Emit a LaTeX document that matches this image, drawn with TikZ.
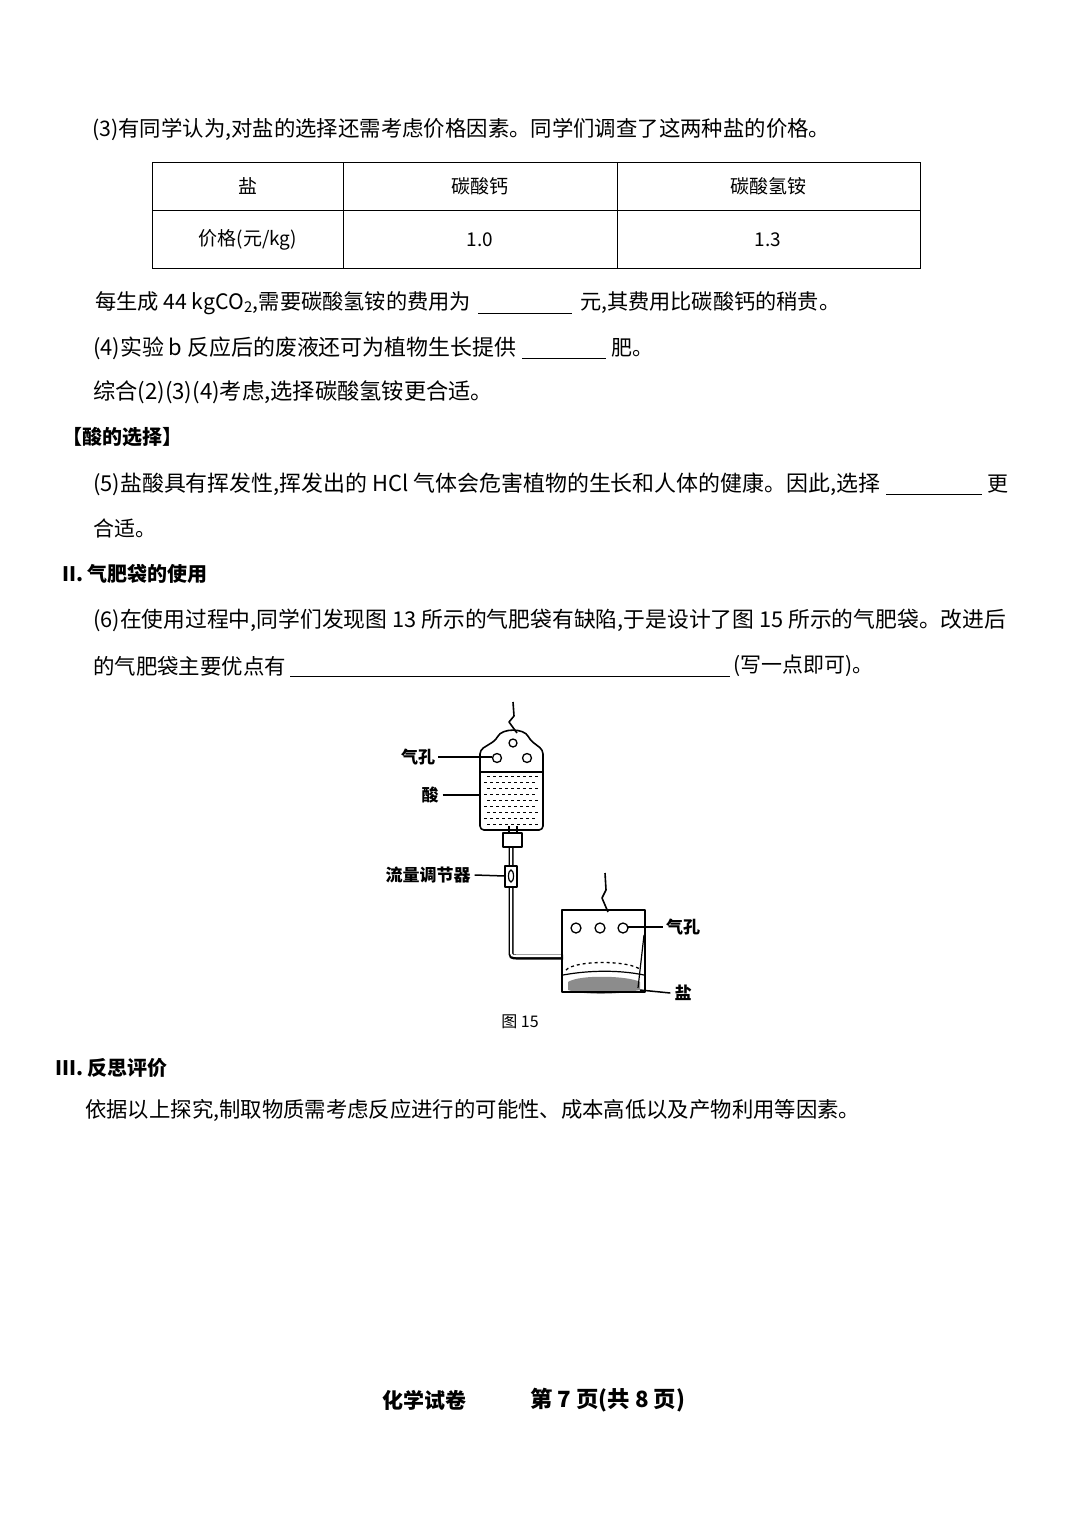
\documentclass[tikz,border=0pt]{standalone}
\usepackage{fontspec}
\setmainfont{Liberation Serif}
\newfontfamily\cjk{Noto Sans CJK SC}
\begin{document}
\begin{tikzpicture}[x=1pt,y=-1pt,
 txt/.style={anchor=west,inner sep=0pt,font=\cjk\fontsize{21}{21}\selectfont},
 ttl/.style={anchor=west,inner sep=0pt,font=\cjk\bfseries\fontsize{20}{20}\selectfont},
 lbl/.style={inner sep=0pt,font=\cjk\bfseries\fontsize{17}{17}\selectfont},
 cell/.style={inner sep=0pt,font=\cjk\fontsize{19}{19}\selectfont},
 dev/.style={line width=1.6pt,line join=round},
 lead/.style={line width=1.5pt},
 blank/.style={line width=0.8pt}]
\useasboundingbox[fill=white] (0,0) rectangle (1080,1528);
\newcommand\fitw[2]{\resizebox{#1pt}{!}{#2}}
\node[txt] (l1) at (92,130) {\fitw{738}{(3)有同学认为,对盐的选择还需考虑价格因素。同学们调查了这两种盐的价格。}};
% table
\draw[line width=1pt] (152,162) rectangle (920,268);
\draw[line width=0.8pt] (152,210) -- (920,210) (343,162) -- (343,268) (617,162) -- (617,268);
\node[cell] (c1) at (248,186) {盐};
\node[cell] (c2) at (480,186) {碳酸钙};
\node[cell] (c3) at (768,186) {碳酸氢铵};
\node[cell] (c4) at (248,240) {价格(元/kg)};
\node[cell] (c5) at (480,240) {1.0};
\node[cell] (c6) at (768,240) {1.3};
\node[txt] (l2a) at (95,303) {\fitw{376}{每生成 44 kgCO\textsubscript{2},需要碳酸氢铵的费用为}};
\node[txt] (l2b) at (580,303) {\fitw{260}{元,其费用比碳酸钙的稍贵。}};
\draw[blank] (478,313) -- (572,313);
\node[txt] (l3a) at (93,348) {\fitw{423}{(4)实验 b 反应后的废液还可为植物生长提供}};
\node[txt] (l3b) at (611,348) {肥。};
\draw[blank] (522,358) -- (606,358);
\node[txt] (l4) at (93,392) {\fitw{400}{综合(2)(3)(4)考虑,选择碳酸氢铵更合适。}};
\node[ttl] (l5) at (62,437) {【酸的选择】};
\node[txt] (l6a) at (93,484) {\fitw{787}{(5)盐酸具有挥发性,挥发出的 HCl 气体会危害植物的生长和人体的健康。因此,选择}};
\node[txt] (l6b) at (987,484) {更};
\draw[blank] (886,494) -- (982,494);
\node[txt] (l7) at (93,528) {合适。};
\node[ttl] (l8) at (62,574) {II. 气肥袋的使用};
\node[txt] (l9) at (93,620) {\fitw{913}{(6)在使用过程中,同学们发现图 13 所示的气肥袋有缺陷,于是设计了图 15 所示的气肥袋。改进后}};
\node[txt] (l10a) at (93,666) {\fitw{193}{的气肥袋主要优点有}};
\node[txt] (l10b) at (733,666) {\fitw{140}{(写一点即可)。}};
\draw[blank] (290,676) -- (730,676);
% ---- figure ----
\draw[dev] (513,702) -- (514,716) -- (509,722) -- (517,733);
\foreach \yy [count=\i] in {776,782,...,824}{
  \pgfmathsetmacro\off{mod(\i,2)*3}
  \foreach \xx in {484,490,...,536}{
    \draw[line width=1pt] (\xx+\off,\yy) -- ++(2.5,0);
  }}
\draw[dev] (480,772) -- (543,772);
\draw[dev,rounded corners=4pt] (480,830) -- (480,750) -- (496,740) .. controls (502,728) and (524,728) .. (530,740) -- (543,750) -- (543,830) -- cycle;
\draw[line width=1.3pt] (513,743) circle (4) (497,758) circle (4.5) (527,758) circle (4.5);
\draw[dev] (509,826) -- (509,833) (517,826) -- (517,833);
\draw[dev] (503,833) rectangle (522,847);
\draw[line width=5pt] (511,847) -- (511,866) (511,887) -- (511,950) .. controls (511,957) .. (518,957) -- (563,957);
\draw[line width=2pt,white] (511,848) -- (511,866) (511,887) -- (511,950) .. controls (511,956) .. (518,956) -- (563,956);
\draw[dev] (505,866) rectangle (517,887);
\draw[line width=1.2pt] (511,876) ellipse (2.5 and 6);
\draw[dev] (605,873) -- (606,890) -- (602,898) -- (608,912);
\fill[black!45] (568,982) .. controls (580,974) and (630,976) .. (640,982) -- (640,990) .. controls (610,996) and (580,994) .. (568,990) -- cycle;
\draw[dev] (562,910) rectangle (645,992);
\draw[line width=1.3pt] (576,928) circle (5) (600,928) circle (5) (623,928) circle (5);
\draw[line width=1.3pt,dashed] (566,970) .. controls (575,960) and (630,960) .. (641,970);
\draw[line width=1.2pt] (563,975) .. controls (590,970) and (620,970) .. (644,975);
\draw[line width=1.2pt] (644,935) -- (638,988);
\node[lbl] (q1) at (418,757) {气孔};
\draw[lead] (q1.east) ++(3,0) -- (492,757);
\node[lbl] (s1) at (430,795) {酸};
\draw[lead] (s1.east) ++(4,0) -- (480,795);
\node[lbl] (r1) at (428,875) {流量调节器};
\draw[lead] (r1.east) ++(4,0) -- (505,876);
\node[lbl] (q2) at (683,927) {气孔};
\draw[lead] (q2.west) ++(-3,0) -- (628,927);
\node[lbl] (y1) at (683,993) {盐};
\draw[lead] (y1.west) ++(-4,0) -- (640,990);
\node[cell,font=\cjk\fontsize{16}{16}\selectfont] (f15) at (520,1022) {图 15};
\node[ttl] (l11) at (55,1068) {III. 反思评价};
\node[txt] (l12) at (85,1110) {\fitw{775}{依据以上探究,制取物质需考虑反应进行的可能性、成本高低以及产物利用等因素。}};
\node[anchor=west,inner sep=0pt,font=\cjk\bfseries\fontsize{21}{21}\selectfont] (foot1) at (382,1400) {化学试卷};
\node[anchor=west,inner sep=0pt,font=\cjk\bfseries\fontsize{21}{21}\selectfont] (foot2) at (530,1400) {\fitw{155}{第 7 页(共 8 页)}};
\end{tikzpicture}
\end{document}
